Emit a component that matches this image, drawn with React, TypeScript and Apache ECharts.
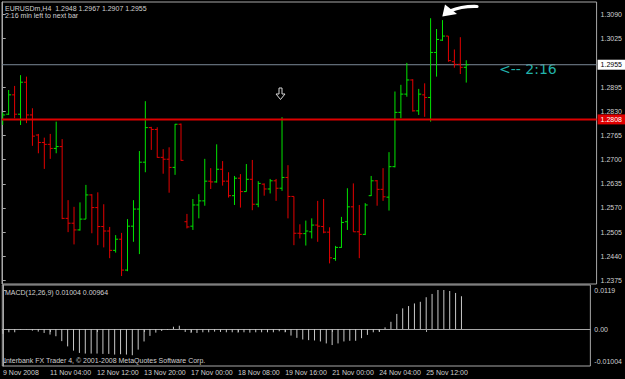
import React, { useEffect, useRef } from "react";
import * as echarts from "echarts";

// ---------- data (EURUSDm, H4) ----------
const opens = [
  1.2806, 1.2822, 1.2874, 1.2822, 1.2908, 1.2820, 1.2766, 1.2746, 1.2741, 1.2730,
  1.2735, 1.2542, 1.2529, 1.2511, 1.2540, 1.2605, 1.2571, 1.2520, 1.2508, 1.2456,
  1.2486, 1.2403, 1.2521, 1.2567, 1.2693, 1.2786, 1.2781, 1.2706, 1.2701, 1.2679,
  1.2795, 1.2533, 1.2521, 1.2578, 1.2589, 1.2642, 1.2640, 1.2674, 1.2642, 1.2603,
  1.2650, 1.2614, 1.2647, 1.2580, 1.2634, 1.2621, 1.2643, 1.2623, 1.2652, 1.2601,
  1.2502, 1.2501, 1.2506, 1.2524, 1.2520, 1.2505, 1.2434, 1.2464, 1.2533, 1.2573,
  1.2506, 1.2499, 1.2603, 1.2643, 1.2620, 1.2599, 1.2681, 1.2827, 1.2876, 1.2914,
  1.2831, 1.2874, 1.2867, 1.2988, 1.3021, 1.3032, 1.2963, 1.2956, 1.2948,
];
const highs = [
  1.2827, 1.2887, 1.2898, 1.2927, 1.2923, 1.2838, 1.2769, 1.2759, 1.2769, 1.2802,
  1.2755, 1.2591, 1.2573, 1.2585, 1.2632, 1.2607, 1.2612, 1.2580, 1.2519, 1.2497,
  1.2503, 1.2540, 1.2591, 1.2723, 1.2857, 1.2788, 1.2787, 1.2728, 1.2733, 1.2796,
  1.2797, 1.2554, 1.2594, 1.2607, 1.2702, 1.2677, 1.2741, 1.2696, 1.2666, 1.2656,
  1.2661, 1.2688, 1.2699, 1.2642, 1.2636, 1.2648, 1.2648, 1.2814, 1.2685, 1.2601,
  1.2526, 1.2536, 1.2542, 1.2589, 1.2594, 1.2518, 1.2468, 1.2546, 1.2623, 1.2636,
  1.2578, 1.2583, 1.2656, 1.2645, 1.2677, 1.2720, 1.2883, 1.2901, 1.2960, 1.2916,
  1.2890, 1.2905, 1.3080, 1.3051, 1.3075, 1.3032, 1.2996, 1.3029, 1.2967,
];
const lows = [
  1.2793, 1.2820, 1.2811, 1.2793, 1.2798, 1.2737, 1.2717, 1.2675, 1.2702, 1.2717,
  1.2540, 1.2505, 1.2472, 1.2509, 1.2540, 1.2502, 1.2470, 1.2464, 1.2435, 1.2450,
  1.2387, 1.2400, 1.2479, 1.2446, 1.2666, 1.2726, 1.2705, 1.2662, 1.2611, 1.2659,
  1.2697, 1.2515, 1.2511, 1.2542, 1.2576, 1.2621, 1.2638, 1.2630, 1.2598, 1.2578,
  1.2571, 1.2614, 1.2564, 1.2572, 1.2603, 1.2609, 1.2589, 1.2616, 1.2542, 1.2470,
  1.2488, 1.2469, 1.2488, 1.2479, 1.2502, 1.2421, 1.2428, 1.2463, 1.2511, 1.2506,
  1.2435, 1.2497, 1.2602, 1.2576, 1.2589, 1.2563, 1.2679, 1.2811, 1.2869, 1.2829,
  1.2820, 1.2815, 1.2802, 1.2923, 1.3019, 1.2963, 1.2947, 1.2930, 1.2907,
];
const closes = [
  1.2820, 1.2874, 1.2822, 1.2908, 1.2820, 1.2763, 1.2746, 1.2741, 1.2730, 1.2735,
  1.2542, 1.2529, 1.2511, 1.2540, 1.2605, 1.2571, 1.2520, 1.2508, 1.2456, 1.2486,
  1.2403, 1.2521, 1.2567, 1.2693, 1.2786, 1.2781, 1.2706, 1.2701, 1.2679, 1.2795,
  1.2698, 1.2519, 1.2578, 1.2589, 1.2642, 1.2640, 1.2674, 1.2642, 1.2603, 1.2650,
  1.2614, 1.2647, 1.2580, 1.2636, 1.2621, 1.2643, 1.2623, 1.2652, 1.2601, 1.2502,
  1.2501, 1.2508, 1.2524, 1.2521, 1.2505, 1.2436, 1.2464, 1.2531, 1.2573, 1.2506,
  1.2499, 1.2578, 1.2643, 1.2620, 1.2600, 1.2681, 1.2827, 1.2876, 1.2914, 1.2831,
  1.2876, 1.2867, 1.2988, 1.3023, 1.3032, 1.2966, 1.2956, 1.2948, 1.2955,
];
const macdHist = [
  -0.0015, -0.0010, -0.0010, -0.0002, -0.0001, -0.0005, -0.0008, -0.0012, -0.0017, -0.0022,
  -0.0037, -0.0053, -0.0066, -0.0073, -0.0075, -0.0075, -0.0075, -0.0076, -0.0076, -0.0078,
  -0.0077, -0.0078, -0.0080, -0.0063, -0.0038, -0.0021, -0.0011, -0.0006, -0.0003, 0.0007,
  0.0010, -0.0009, -0.0012, -0.0012, -0.0010, -0.0010, -0.0008, -0.0009, -0.0010, -0.0010,
  -0.0011, -0.0010, -0.0011, -0.0010, -0.0010, -0.0010, -0.0010, -0.0007, -0.0010, -0.0020,
  -0.0027, -0.0032, -0.0034, -0.0035, -0.0038, -0.0044, -0.0049, -0.0044, -0.0038, -0.0036,
  -0.0036, -0.0028, -0.0018, -0.0010, -0.0008, 0.0005, 0.0022, 0.0046, 0.0063, 0.0070,
  0.0078, 0.0083, 0.0097, 0.0107, 0.0119, 0.0119, 0.0116, 0.0110, 0.0100,
];
const timeTickIndex = [0, 8, 16, 24, 32, 40, 48, 56, 64, 72];
const timeLabels = [
  "9 Nov 2008", "11 Nov 04:00", "12 Nov 12:00", "13 Nov 20:00", "17 Nov 00:00",
  "18 Nov 08:00", "19 Nov 16:00", "21 Nov 00:00", "24 Nov 04:00", "25 Nov 12:00",
];
const priceTicks = [
  1.2375, 1.244, 1.2505, 1.257, 1.2635, 1.27, 1.2765, 1.283, 1.2895, 1.3025, 1.309,
];
const macdTicks = [0.0119, 0, -0.01004];
const macdTickLabels = ["0.0119", "0.00", "-0.01004"];
const bidPrice = 1.2955;
const levelPrice = 1.2808;

const X_MIN = -0.12;
const X_MAX = 99.93;
const UP = "#00e400";
const DOWN = "#e40000";
const TXT = "#d0d0d0";
const FONT = "Liberation Sans";

export default function App() {
  const ref = useRef<HTMLDivElement>(null);
  useEffect(() => {
    document.body.style.margin = "0";
    document.body.style.background = "#000";
    const chart = echarts.init(ref.current!, null, { renderer: "svg" });
    const ohlcData = opens.map((o, i) => [i, o, highs[i], lows[i], closes[i]]);
    const macdData = macdHist.map((v, i) => [i, v]);

    const levelSeries = (price: number, color: string, width: number, bg: string, fg: string, z: number) => ({
      type: "line",
      xAxisIndex: 0,
      yAxisIndex: 0,
      data: [[X_MIN, price], [X_MAX, price]],
      symbol: "none",
      silent: true,
      z,
      clip: false,
      lineStyle: { color, width, type: "solid" },
      endLabel: {
        show: true,
        formatter: price.toFixed(4),
        distance: 1,
        backgroundColor: bg,
        color: fg,
        fontSize: 7,
        fontFamily: FONT,
        padding: [2, 3, 1, 3],
      },
    });

    const option: any = {
      animation: false,
      backgroundColor: "#000000",
      grid: [
        { left: 2, right: 28, top: 2, bottom: 95, show: true, borderColor: "#a8a8a8", borderWidth: 1, backgroundColor: "transparent" },
        { left: 2, right: 28, top: 285, bottom: 13, show: true, borderColor: "#a8a8a8", borderWidth: 1, backgroundColor: "transparent" },
      ],
      xAxis: [
        { type: "value", gridIndex: 0, min: X_MIN, max: X_MAX, show: false, splitLine: { show: false } },
        {
          type: "value", gridIndex: 1, min: X_MIN, max: X_MAX,
          splitLine: { show: false },
          axisLine: { show: true, lineStyle: { color: "#a8a8a8" } },
          axisTick: { show: true, length: 3, lineStyle: { color: "#a8a8a8" }, customValues: timeTickIndex },
          axisLabel: {
            show: true, customValues: timeTickIndex, color: TXT, fontSize: 7, fontFamily: FONT,
            margin: 3, align: "left",
            formatter: (v: number) => {
              const k = timeTickIndex.indexOf(Math.round(v));
              return k >= 0 ? timeLabels[k] : "";
            },
          },
        },
      ],
      yAxis: [
        {
          type: "value", gridIndex: 0, position: "right", min: 1.23656, max: 1.31236,
          splitLine: { show: false },
          axisLine: { show: true, lineStyle: { color: "#a8a8a8" } },
          axisTick: { show: true, length: 3, lineStyle: { color: "#a8a8a8" }, customValues: priceTicks },
          axisLabel: {
            customValues: priceTicks, color: TXT, fontSize: 7, fontFamily: FONT, margin: 4,
            formatter: (v: number) => v.toFixed(4),
          },
        },
        {
          type: "value", gridIndex: 1, position: "right", min: -0.01129, max: 0.01343,
          splitLine: { show: false },
          axisLine: { show: true, lineStyle: { color: "#a8a8a8" } },
          axisTick: { show: true, length: 3, lineStyle: { color: "#a8a8a8" }, customValues: macdTicks },
          axisLabel: {
            customValues: macdTicks, color: TXT, fontSize: 7, fontFamily: FONT, margin: 4,
            formatter: (v: number) => {
              let best = 0;
              macdTicks.forEach((t, k) => { if (Math.abs(t - v) < Math.abs(macdTicks[best] - v)) best = k; });
              return macdTickLabels[best];
            },
          },
        },
      ],
      series: [
        levelSeries(bidPrice, "#7a8896", 1, "#ffffff", "#000000", 1),
        levelSeries(levelPrice, "#dd0000", 2, "#e00000", "#ffffff", 3),
        {
          type: "custom",
          xAxisIndex: 0,
          yAxisIndex: 0,
          z: 2,
          data: ohlcData,
          encode: { x: 0, y: [1, 2, 3, 4] },
          clip: true,
          renderItem: (params: any, api: any) => {
            const i = api.value(0);
            const o = api.value(1), h = api.value(2), l = api.value(3), c = api.value(4);
            const ph = api.coord([i, h]);
            const pl = api.coord([i, l]);
            const po = api.coord([i, o]);
            const pc = api.coord([i, c]);
            const col = c > o ? UP : DOWN;
            const st = { stroke: col, lineWidth: 1 };
            return {
              type: "group",
              children: [
                { type: "line", shape: { x1: ph[0], y1: ph[1], x2: pl[0], y2: pl[1] }, style: st },
                { type: "line", shape: { x1: po[0] - 2.5, y1: po[1], x2: po[0], y2: po[1] }, style: st },
                { type: "line", shape: { x1: pc[0], y1: pc[1], x2: pc[0] + 2.5, y2: pc[1] }, style: st },
              ],
            };
          },
        },
        {
          type: "custom",
          xAxisIndex: 1,
          yAxisIndex: 1,
          data: macdData,
          encode: { x: 0, y: 1 },
          renderItem: (params: any, api: any) => {
            const i = api.value(0);
            const v = api.value(1);
            const p0 = api.coord([i, 0]);
            const p1 = api.coord([i, v]);
            return {
              type: "line",
              shape: { x1: p0[0], y1: p0[1], x2: p1[0], y2: p1[1] },
              style: { stroke: "#c8c8c8", lineWidth: 1 },
            };
          },
        },
      ],
      graphic: [
        { type: "text", left: 5, top: 4.5, style: { text: "EURUSDm,H4  1.2948 1.2967 1.2907 1.2955", fill: TXT, fontSize: 7, fontFamily: FONT } },
        { type: "text", left: 5, top: 11.5, style: { text: "2:16 min left to next bar", fill: TXT, fontSize: 7, fontFamily: FONT } },
        { type: "text", left: 5, top: 289, style: { text: "MACD(12,26,9) 0.01004 0.00964", fill: TXT, fontSize: 7, fontFamily: FONT } },
        { type: "text", left: 4, top: 356.5, style: { text: "Interbank FX Trader 4, \u00a9 2001-2008 MetaQuotes Software Corp.", fill: TXT, fontSize: 7, fontFamily: FONT } },
        { type: "text", left: 499, top: 62, style: { text: "<-- 2:16", fill: "#22b2aa", fontSize: 14, fontFamily: "DejaVu Sans" } },
        {
          type: "polygon",
          shape: { points: [[279, 88], [282, 88], [282, 94], [285, 94], [280.5, 99.5], [276, 94], [279, 94]] },
          style: { fill: "none", stroke: "#d8d8d8", lineWidth: 1 },
        },
        {
          type: "polygon",
          shape: { points: [[442.3, 16.5], [445, 4.5], [457, 14]] },
          style: { fill: "#ffffff" },
        },
        {
          type: "bezierCurve",
          shape: { x1: 450, y1: 11, cpx1: 462, cpy1: 6, x2: 477, y2: 6.5 },
          style: { stroke: "#ffffff", lineWidth: 3.2, fill: "none", lineCap: "round" },
        },
      ],
    };
    chart.setOption(option);
    return () => chart.dispose();
  }, []);
  return <div ref={ref} style={{ width: 625, height: 379, background: "#000" }} />;
}
